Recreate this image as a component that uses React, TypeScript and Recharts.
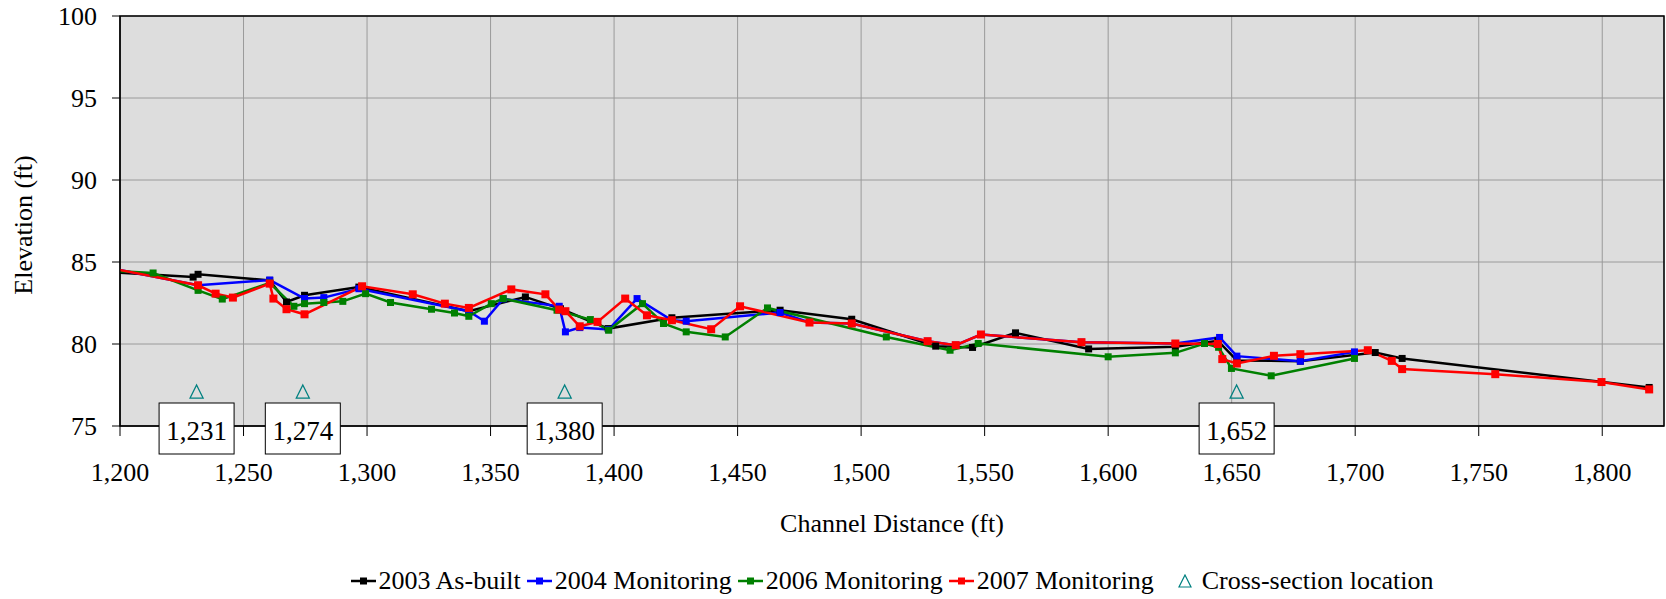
import React from "react";
import {
  ComposedChart,
  Line,
  Scatter,
  XAxis,
  YAxis,
  CartesianGrid,
  ReferenceArea,
  ReferenceDot,
  Legend,
} from "recharts";

const FONT = '"Liberation Serif", "Times New Roman", "DejaVu Serif", serif';

// [channel distance (ft), elevation (ft)]
const asBuilt2003: [number, number][] = [
  [1190, 84.44], [1229.6, 84.08], [1231.6, 84.25], [1260.6, 83.88], [1267.4, 82.56],
  [1274.7, 82.97], [1296.7, 83.47], [1341.2, 82.0], [1364.1, 82.87], [1378.3, 82.15],
  [1397.6, 80.94], [1423.4, 81.6], [1467.2, 82.06], [1496.2, 81.51], [1530.2, 79.87],
  [1545.1, 79.79], [1562.5, 80.68], [1592.1, 79.7], [1627.2, 79.83], [1644.4, 80.2],
  [1652.1, 79.0], [1677.8, 78.95], [1708.1, 79.48], [1719.0, 79.12], [1819.0, 77.35],
];

const monitoring2004: [number, number][] = [
  [1190, 84.8], [1231.6, 83.58], [1260.6, 83.9], [1274.7, 82.77], [1282.5, 82.83],
  [1296.7, 83.37], [1341.2, 82.0], [1347.5, 81.39], [1355.1, 82.75], [1377.8, 82.3],
  [1380.3, 80.74], [1386.1, 81.0], [1397.8, 80.88], [1409.3, 82.77], [1423.4, 81.45],
  [1429.2, 81.39], [1467.2, 81.92], [1479.1, 81.31], [1496.2, 81.25], [1526.9, 80.17],
  [1538.3, 79.93], [1548.5, 80.58], [1589.2, 80.11], [1627.2, 80.03], [1645.1, 80.4],
  [1652.1, 79.26], [1677.8, 78.95], [1699.7, 79.52],
];

const monitoring2006: [number, number][] = [
  [1190, 84.52], [1213.4, 84.33], [1231.6, 83.27], [1241.4, 82.74], [1260.6, 83.72],
  [1270.4, 82.3], [1274.7, 82.46], [1282.5, 82.53], [1290.2, 82.6], [1299.4, 83.07],
  [1309.5, 82.53], [1326.1, 82.12], [1335.4, 81.89], [1341.2, 81.69], [1350.3, 82.46],
  [1355.1, 82.77], [1376.9, 82.06], [1390.4, 81.49], [1397.8, 80.84], [1411.5, 82.46],
  [1420.0, 81.25], [1429.2, 80.74], [1445.0, 80.43], [1462.1, 82.2], [1510.2, 80.43],
  [1536.0, 79.62], [1547.4, 80.03], [1600.0, 79.22], [1627.2, 79.46], [1639.0, 80.03],
  [1644.7, 79.8], [1649.9, 78.51], [1666.0, 78.06], [1699.7, 79.12],
];

const monitoring2007: [number, number][] = [
  [1190, 84.8], [1231.6, 83.58], [1238.7, 83.07], [1245.7, 82.83], [1260.6, 83.68],
  [1262.1, 82.77], [1267.4, 82.12], [1274.7, 81.81], [1298.0, 83.52], [1318.5, 83.03],
  [1331.5, 82.46], [1341.2, 82.2], [1358.4, 83.33], [1372.2, 83.03], [1377.8, 82.1],
  [1380.3, 82.0], [1386.1, 81.08], [1393.3, 81.35], [1404.5, 82.77], [1413.3, 81.75],
  [1423.4, 81.45], [1439.3, 80.9], [1451.0, 82.3], [1479.1, 81.31], [1496.2, 81.25],
  [1526.9, 80.17], [1538.3, 79.93], [1548.5, 80.58], [1589.2, 80.11], [1627.2, 80.03],
  [1644.4, 80.0], [1646.2, 79.08], [1652.1, 78.81], [1667.1, 79.28], [1677.8, 79.38],
  [1705.1, 79.62], [1714.8, 78.97], [1719.0, 78.47], [1756.7, 78.16], [1799.7, 77.68],
  [1819.0, 77.23],
];

const crossSections = [1231, 1274, 1380, 1652];
const crossSectionElevation = 77.1;

const xTicks = [1200, 1250, 1300, 1350, 1400, 1450, 1500, 1550, 1600, 1650, 1700, 1750, 1800];
const yTicks = [75, 80, 85, 90, 95, 100];

const toPoints = (arr: [number, number][]) => arr.map(([x, y]) => ({ x, y }));

const series = [
  { name: "2003 As-built", color: "#000000", data: toPoints(asBuilt2003), size: 7 },
  { name: "2004 Monitoring", color: "#0000FF", data: toPoints(monitoring2004), size: 7 },
  { name: "2006 Monitoring", color: "#008000", data: toPoints(monitoring2006), size: 7 },
  { name: "2007 Monitoring", color: "#FF0000", data: toPoints(monitoring2007), size: 8 },
];

const crossSectionPoints = crossSections.map((x) => ({ x, y: crossSectionElevation }));

const TEAL = "#008080";

const squareDot = (color: string, size: number) => (props: any) => {
  const { cx, cy, index } = props;
  if (cx == null || cy == null) return <g key={index} />;
  return (
    <rect key={index} x={cx - size / 2} y={cy - size / 2} width={size} height={size} fill={color} />
  );
};

const Triangle = (props: any) => {
  const { cx, cy } = props;
  if (cx == null || cy == null) return <g />;
  const w = 13;
  const h = 13;
  return (
    <path
      d={`M${cx},${cy - h / 2} L${cx + w / 2},${cy + h / 2} L${cx - w / 2},${cy + h / 2} Z`}
      fill="none"
      stroke={TEAL}
      strokeWidth={1.3}
    />
  );
};

// boxed station label sitting on the x axis
const StationBox = (label: string) => (props: any) => {
  const { cx, cy } = props;
  if (cx == null || cy == null) return <g />;
  return (
    <g>
      <rect x={cx - 37.5} y={cy - 23} width={75} height={51} fill="#fff" stroke="#000" strokeWidth={1} />
      <text
        x={cx}
        y={cy + 5}
        textAnchor="middle"
        dominantBaseline="central"
        style={{ fontFamily: FONT, fontSize: 27 }}
        fill="#000"
      >
        {label}
      </text>
    </g>
  );
};

const fmt = (v: number) => v.toLocaleString("en-US");

function ChartLegend() {
  return (
    <div
      style={{
        display: "flex",
        justifyContent: "center",
        alignItems: "center",
        fontFamily: FONT,
        fontSize: 26,
        color: "#000",
        lineHeight: "30px",
        whiteSpace: "nowrap",
      }}
    >
      {series.map((s) => (
        <span key={s.name} style={{ display: "inline-flex", alignItems: "center", marginRight: 6 }}>
          <svg width={25} height={12}>
            <line x1={0} x2={25} y1={6} y2={6} stroke={s.color} strokeWidth={2.5} />
            <rect x={9} y={2.5} width={7} height={7} fill={s.color} />
          </svg>
          <span style={{ marginLeft: 3 }}>{s.name}</span>
        </span>
      ))}
      <span style={{ display: "inline-flex", alignItems: "center", marginLeft: 18 }}>
        <svg width={14} height={14}>
          <path d="M7,1 L13,13 L1,13 Z" fill="none" stroke={TEAL} strokeWidth={1.2} />
        </svg>
        <span style={{ marginLeft: 10 }}>Cross-section location</span>
      </span>
    </div>
  );
}

const tickStyle = { fill: "#000", fontSize: 26, style: { fontFamily: FONT } };

export default function App() {
  return (
    <div style={{ width: 1666, height: 599, background: "#fff", fontFamily: FONT }}>
      <style>{"body{margin:0} svg text{font-family:" + FONT + ";}"}</style>
      <ComposedChart
        width={1666}
        height={599}
        margin={{ top: 16, right: 2, bottom: 63, left: 0 }}
        style={{ fontFamily: FONT }}
      >
        <CartesianGrid fill="#DDDDDD" stroke="#9a9a9a" strokeWidth={1} />
        <XAxis
          type="number"
          dataKey="x"
          domain={[1200, 1825]}
          ticks={xTicks}
          interval={0}
          allowDataOverflow
          tickFormatter={fmt}
          tickSize={10}
          tickMargin={27}
          height={110}
          stroke="#000"
          tick={tickStyle}
          label={{
            content: (p: any) => {
              const vb = p.viewBox || { x: 120, y: 426, width: 1544 };
              return (
                <text
                  x={vb.x + vb.width / 2}
                  y={vb.y + 97}
                  textAnchor="middle"
                  dominantBaseline="central"
                  style={{ fontFamily: FONT, fontSize: 26 }}
                  fill="#000"
                >
                  Channel Distance (ft)
                </text>
              );
            },
          }}
        />
        <YAxis
          type="number"
          domain={[75, 100]}
          ticks={yTicks}
          interval={0}
          allowDataOverflow
          width={120}
          tickSize={8}
          tickMargin={15}
          stroke="#000"
          tick={tickStyle}
          label={{
            content: (p: any) => {
              const vb = p.viewBox || { x: 0, y: 16, height: 410 };
              const x = vb.x + 23;
              const y = vb.y + vb.height / 2 + 4;
              return (
                <text
                  x={x}
                  y={y}
                  transform={`rotate(-90 ${x} ${y})`}
                  textAnchor="middle"
                  dominantBaseline="central"
                  style={{ fontFamily: FONT, fontSize: 26 }}
                  fill="#000"
                >
                  Elevation (ft)
                </text>
              );
            },
          }}
        />
        <ReferenceArea
          x1={1200}
          x2={1825}
          y1={75}
          y2={100}
          fill="none"
          stroke="#000"
          strokeWidth={1.5}
          ifOverflow="visible"
        />
        {series.map((s) => (
          <Line
            key={s.name}
            name={s.name}
            data={s.data}
            dataKey="y"
            type="linear"
            stroke={s.color}
            strokeWidth={2.5}
            dot={squareDot(s.color, s.size)}
            activeDot={false}
            isAnimationActive={false}
          />
        ))}
        <Scatter
          name="Cross-section location"
          data={crossSectionPoints}
          dataKey="y"
          shape={Triangle}
          isAnimationActive={false}
        />
        {crossSections.map((x) => (
          <ReferenceDot
            key={x}
            x={x}
            y={75}
            ifOverflow="visible"
            shape={StationBox(fmt(x))}
            {...({ zIndex: 2500 } as any)}
          />
        ))}
        <Legend
          verticalAlign="middle"
          content={() => <ChartLegend />}
          wrapperStyle={{ top: 566, left: 120, width: 1544 }}
        />
      </ComposedChart>
    </div>
  );
}
